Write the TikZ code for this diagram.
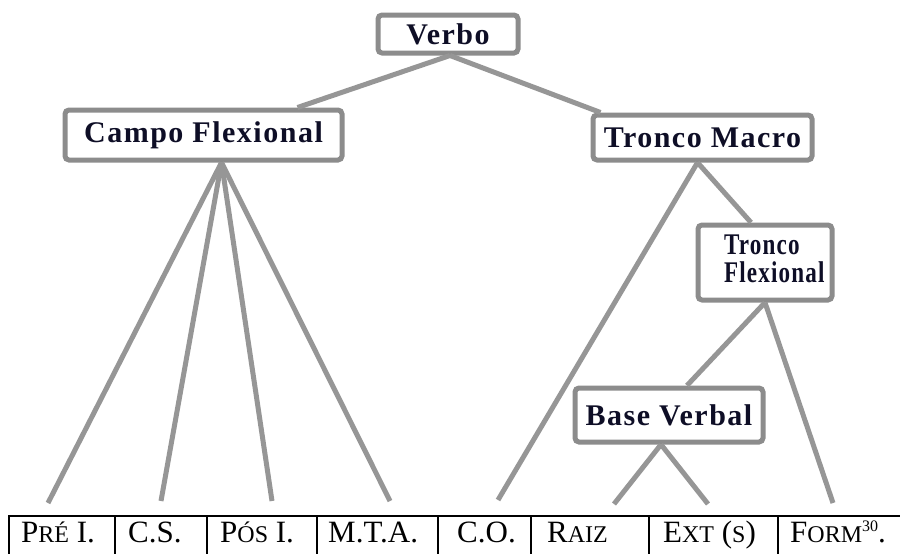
\documentclass[tikz,border=0pt]{standalone}
\usepackage{graphicx}
\usepackage{fontspec}
\setmainfont{Liberation Serif}
\newfontfamily\boxfont[LetterSpace=5]{Liberation Serif}
\definecolor{ink}{RGB}{14,14,38}
\definecolor{boxgray}{RGB}{140,140,140}
\definecolor{linegray}{RGB}{150,150,150}
\newcommand\Sm[1]{{\fontsize{24}{24}\selectfont #1}}
\begin{document}
\begin{tikzpicture}[x=1pt,y=-1pt,
  bx/.style={draw=boxgray, line width=5pt, rounded corners=4pt, fill=white,
    font=\boxfont\bfseries\fontsize{30}{28}\selectfont, text=ink, inner sep=0pt, align=center},
  br/.style={draw=linegray, line width=5pt},
  tab/.style={font=\fontsize{31}{31}\selectfont, text=black, inner sep=0pt, anchor=base west},
  rule/.style={draw=black, line width=1.8pt}]
\useasboundingbox (0,0) rectangle (900,554);

% boxes
\node[bx, minimum width=140pt, minimum height=38pt] (verbo) at (448,34) {Verbo};
\node[bx, minimum width=277pt, minimum height=50pt] (campo) at (203.5,135) {Campo Flexional};
\node[bx, minimum width=219pt, minimum height=45pt] (tmacro) at (702.5,137.5) {Tronco Macro};
\node[bx, minimum width=134pt, minimum height=75pt] (tflex) at (765,262.5)
  {\scalebox{0.77}[1]{\begin{tabular}{@{\hspace{24pt}}l@{}}Tronco\\[-1pt]Flexional\end{tabular}}};
\node[bx, minimum width=188pt, minimum height=54pt] (bverbal) at (669,415) {Base Verbal};

% free ends
\coordinate (e1) at (48,503);
\coordinate (e2) at (161,501);
\coordinate (e3) at (272,501);
\coordinate (e4) at (390,501);
\coordinate (e5) at (498,500);
\coordinate (e6) at (614,504);
\coordinate (e7) at (708,504);
\coordinate (e8) at (833,503);

% connectors
\draw[br] ([xshift=2pt]verbo.south) -- ([xshift=94pt]campo.north);
\draw[br] ([xshift=2pt]verbo.south) -- ([xshift=10pt]tmacro.north west);
\draw[br] ([xshift=18pt]campo.south) -- (e1);
\draw[br] ([xshift=18pt]campo.south) -- (e2);
\draw[br] ([xshift=18pt]campo.south) -- (e3);
\draw[br] ([xshift=18pt]campo.south) -- (e4);
\draw[br] ([xshift=-5pt]tmacro.south) -- (e5);
\draw[br] ([xshift=-5pt]tmacro.south) -- ([xshift=-14pt]tflex.north);
\draw[br] (tflex.south) -- ([xshift=18pt]bverbal.north);
\draw[br] (tflex.south) -- (e8);
\draw[br] ([xshift=-8pt]bverbal.south) -- (e6);
\draw[br] ([xshift=-8pt]bverbal.south) -- (e7);

% table
\draw[rule] (8,516) -- (900,516);
\draw[rule] (9,516) -- (9,554);
\foreach \xx in {115,207,317,438,531,649,778} {\draw[rule] (\xx,516) -- (\xx,554);}

\node[tab] (t1) at (21,542) {P\Sm{RÉ} I.};
\node[tab] (t2) at (128,542) {C.S.};
\node[tab] (t3) at (220,542) {P\Sm{ÓS} I.};
\node[tab] (t4) at (328,542) {M.T.A.};
\node[tab] (t5) at (457,542) {C.O.};
\node[tab] (t6) at (547,542) {R\Sm{AIZ}};
\node[tab] (t7) at (663,542) {E\Sm{XT} (\Sm{S})};
\node[tab] (t8) at (790,542) {F\Sm{ORM}\raisebox{11pt}{\fontsize{16}{16}\selectfont 30}.};
\end{tikzpicture}
\end{document}
